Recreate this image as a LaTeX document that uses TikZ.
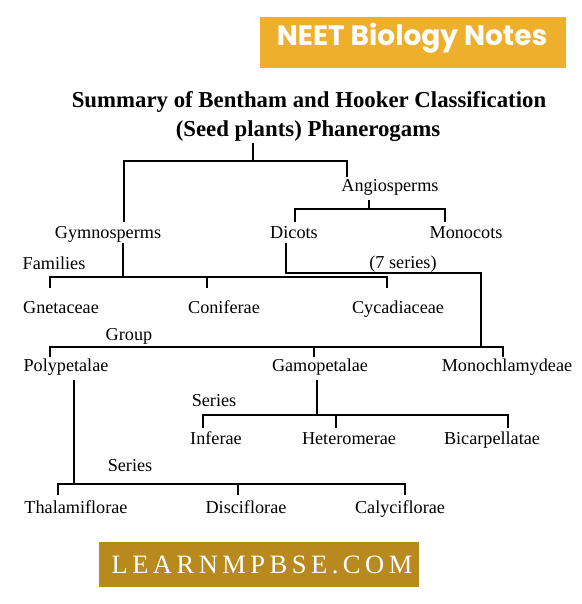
\documentclass[tikz,border=0pt]{standalone}
\usepackage{fontspec}
\setmainfont{Liberation Serif}
\newfontfamily\bannerfont{Poppins}
\usetikzlibrary{calc}
\definecolor{neetgold}{HTML}{EEAF2C}
\definecolor{learngold}{HTML}{B8891C}
\begin{document}
\begin{tikzpicture}[x=1pt,y=-1pt,
  lbl/.style={inner sep=0pt,font=\fontsize{18.2}{20}\selectfont,text height=12pt,text depth=4pt},
  ttl/.style={inner sep=0pt,font=\bfseries\fontsize{22.8}{26}\selectfont},
  ln/.style={line width=1.3pt,black}]
\useasboundingbox (0,0) rectangle (581,604);
\fill[white] (0,0) rectangle (581,604);
% banners
\fill[neetgold] (260,17) rectangle (566,68);
\node[inner sep=0pt,text=white,font=\bannerfont\bfseries\fontsize{28}{30}\selectfont] (neet) at (412,38) {NEET Biology Notes};
\fill[learngold] (99,542) rectangle (419,587);
\node[inner sep=0pt,text=white,font=\addfontfeatures{LetterSpace=17}\fontsize{26.5}{30}\selectfont] (learn) at (262,565) {LEARNMPBSE.COM};
% title
\node[ttl] (t1) at (309,102) {Summary of Bentham and Hooker Classification};
\node[ttl] (t2) at (308,131) {(Seed plants) Phanerogams};
% labels
\node[lbl] (angio) at (390,187) {Angiosperms};
\node[lbl] (gym) at (108,234) {Gymnosperms};
\node[lbl] (dicots) at (294,234) {Dicots};
\node[lbl] (mono) at (466,234) {Monocots};
\node[lbl] (fam) at (54,265) {Families};
\node[lbl] (seven) at (403,264) {(7 series)};
\node[lbl] (gnet) at (61,309) {Gnetaceae};
\node[lbl] (conif) at (224,309) {Coniferae};
\node[lbl] (cycad) at (398,309) {Cycadiaceae};
\node[lbl] (group) at (129,336) {Group};
\node[lbl] (poly) at (66,367) {Polypetalae};
\node[lbl] (gamo) at (320,367) {Gamopetalae};
\node[lbl] (monoch) at (507,367) {Monochlamydeae};
\node[lbl] (series1) at (214,402) {Series};
\node[lbl] (infer) at (216,440) {Inferae};
\node[lbl] (hetero) at (349,440) {Heteromerae};
\node[lbl] (bicarp) at (492,440) {Bicarpellatae};
\node[lbl] (series2) at (130,467) {Series};
\node[lbl] (thal) at (76,509) {Thalamiflorae};
\node[lbl] (disc) at (246,509) {Disciflorae};
\node[lbl] (calyc) at (400,509) {Calyciflorae};
% junction coordinates
\coordinate (j0) at (253,161);
\coordinate (jA) at (369,209);
\coordinate (jG) at (123,277);
\coordinate (jD) at (481,273);
\coordinate (jgr) at (481,347);
\coordinate (jP) at (74,484);
\coordinate (jM) at (317,415);
% connectors
\draw[ln] (253,143) -- (j0);
\draw[ln] (124,222) |- (j0) -| (347,177);
\draw[ln] (369,200) -- (jA);
\draw[ln] (295,222) |- (jA) -| (445,222);
\draw[ln] (123,243) -- (jG);
\draw[ln] (50,288) |- (jG) -| (387,288);
\draw[ln] (207,277) -- (207,288);
\draw[ln] (286,243) |- (jD) -- (jgr);
\draw[ln] (50,357) |- (jgr) -| (503,357);
\draw[ln] (314,347) -- (314,357);
\draw[ln] (74,380) -- (jP);
\draw[ln] (58,495) |- (jP) -| (405,495);
\draw[ln] (238,484) -- (238,495);
\draw[ln] (317,380) -- (jM);
\draw[ln] (203,428) |- (jM) -| (508,428);
\draw[ln] (336,415) -- (336,428);
\end{tikzpicture}
\end{document}
